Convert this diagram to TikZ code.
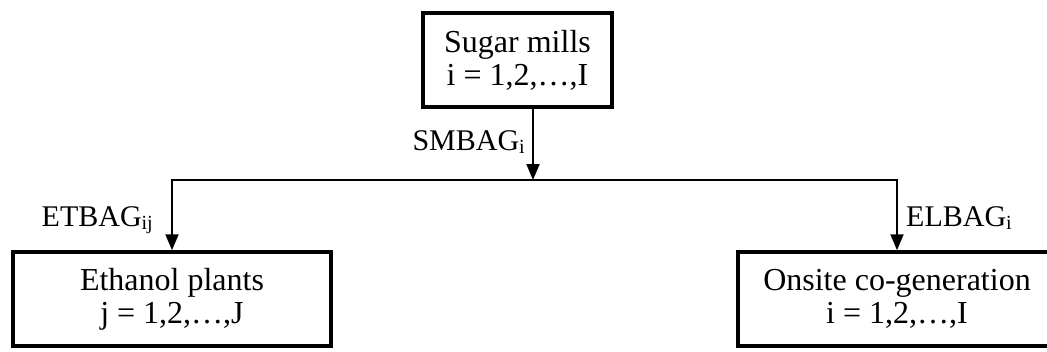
\documentclass[tikz,border=0pt]{standalone}
\usepackage{fontspec}
\setmainfont{Liberation Serif}
\usetikzlibrary{arrows.meta}
\newcommand{\mysub}[1]{\raisebox{-3pt}{\fontsize{20}{20}\selectfont #1}}
\begin{document}
\begin{tikzpicture}[x=1pt,y=-1pt,
  box/.style={draw, line width=3.5pt, minimum width=#1, minimum height=94pt,
    inner sep=0pt, align=center, font=\fontsize{32}{33}\selectfont},
  box/.default=189,
  arr/.style={line width=2pt, -{Triangle[length=16pt,width=13pt]}},
  lbl/.style={inner sep=0pt, font=\fontsize{30}{30}\selectfont}]
\useasboundingbox (0,0) rectangle (1047,351);
\clip (0,0) rectangle (1047,351);
\node[box=189] (sugar) at (517.5,60) {Sugar mills\\i = 1,2,…,I};
\node[box=318] (eth) at (172,299) {Ethanol plants\\j = 1,2,…,J};
\node[box=318] (onsite) at (897,299) {Onsite co-generation\\i = 1,2,…,I};
\coordinate (J) at (533,180);
\draw[arr] (sugar.south -| J) -- (J);
\draw[arr] (J) -| (eth.north);
\draw[arr] (J) -| (onsite.north);
\node[lbl, anchor=base east] (smbag) at (525,150) {SMBAG\mysub{i}};
\node[lbl, anchor=base east] (etbag) at (153,226) {ETBAG\mysub{ij}};
\node[lbl, anchor=base west] (elbag) at (906,226) {ELBAG\mysub{i}};
\end{tikzpicture}
\end{document}
